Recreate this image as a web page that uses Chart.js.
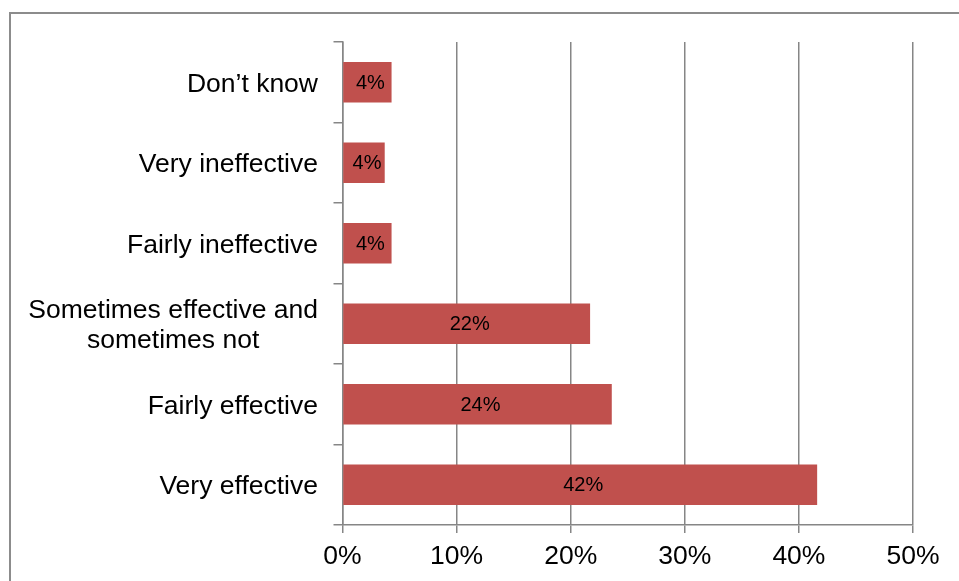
<!DOCTYPE html>
<html lang="en">
  <head>
    <meta charset="UTF-8" />
    <style>
      html, body { margin: 0; padding: 0; background: #fff; }
      canvas { display: block; }
    </style>
  </head>
  <body>
    <canvas id="myChart" width="959" height="581"></canvas>
    <script src="https://cdn.jsdelivr.net/npm/chart.js@4.4.0/dist/chart.umd.min.js"></script>
    <script>
      // answers, top to bottom as they appear
      var categories = [
        "Don’t know",
        "Very ineffective",
        "Fairly ineffective",
        ["Sometimes effective and", "sometimes not"],
        "Fairly effective",
        "Very effective",
      ];
      var shares = [4.3, 3.7, 4.3, 21.7, 23.6, 41.6];
      var xTicks = [0, 10, 20, 30, 40, 50];

      var FONT = "'Liberation Sans', Arial, sans-serif";
      var GRID = "#868686";

      // frame around the chart, y labels (centred lines like the original) and value labels
      var drawExtras = {
        id: "drawExtras",
        beforeDraw: function (chart) {
          var c = chart.ctx;
          c.save();
          c.strokeStyle = "#8c8c8c";
          c.lineWidth = 2;
          c.strokeRect(10, 13, 1000, 620);
          c.restore();
        },
        afterDraw: function (chart) {
          var c = chart.ctx;
          var yScale = chart.scales.y;
          c.save();
          c.fillStyle = "#000";
          c.font = "26.5px " + FONT;
          c.textBaseline = "middle";
          c.textAlign = "center";
          var rightEdge = 318;
          var lineH = 30;
          categories.forEach(function (lab, i) {
            var lines = Array.isArray(lab) ? lab : [lab];
            var widest = 0;
            lines.forEach(function (l) {
              widest = Math.max(widest, c.measureText(l).width);
            });
            var cx = rightEdge - widest / 2;
            var cy = yScale.getPixelForValue(i) + 2;
            var y0 = cy - ((lines.length - 1) * lineH) / 2;
            lines.forEach(function (l, k) {
              c.fillText(l, cx, y0 + k * lineH);
            });
          });

          c.font = "20px " + FONT;
          var meta = chart.getDatasetMeta(0);
          meta.data.forEach(function (bar, i) {
            var mid = (bar.x + bar.base) / 2;
            c.fillText(Math.round(shares[i]) + "%", mid + 3, bar.y + 1);
          });
          c.restore();
        },
      };

      var ctx = document.getElementById("myChart").getContext("2d");
      var chart = new Chart(ctx, {
        type: "bar",
        data: {
          labels: categories,
          datasets: [
            {
              data: shares,
              backgroundColor: "#C0504D",
              borderWidth: 0,
              barPercentage: 0.505,
              categoryPercentage: 1,
            },
          ],
        },
        options: {
          indexAxis: "y",
          responsive: false,
          animation: false,
          devicePixelRatio: 1,
          layout: {
            padding: { top: 42, right: 46, left: 0, bottom: 0 },
          },
          plugins: {
            legend: { display: false },
            tooltip: { enabled: false },
          },
          scales: {
            x: {
              min: xTicks[0],
              max: xTicks[xTicks.length - 1],
              afterBuildTicks: function (scale) {
                scale.ticks = xTicks.map(function (v) {
                  return { value: v };
                });
              },
              afterFit: function (scale) {
                scale.height = 56;
              },
              ticks: {
                color: "#000",
                font: { family: FONT, size: 26.5 },
                padding: 8,
                maxRotation: 0,
                callback: function (v) {
                  return v + "%";
                },
              },
              grid: {
                color: GRID,
                lineWidth: 1.5,
                tickLength: 8,
              },
              border: { color: GRID, width: 1.5 },
            },
            y: {
              afterFit: function (scale) {
                scale.width = 342.5;
              },
              ticks: { display: false },
              grid: {
                offset: true,
                drawOnChartArea: false,
                color: GRID,
                lineWidth: 1.5,
                tickLength: 9,
              },
              border: { color: GRID, width: 1.5 },
            },
          },
        },
        plugins: [drawExtras],
      });
    </script>
  </body>
</html>
